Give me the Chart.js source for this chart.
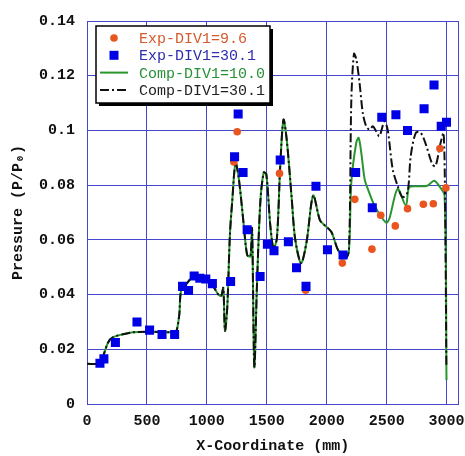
<!DOCTYPE html>
<html lang="en">
<head>
<meta charset="UTF-8">
<title>Pressure distribution</title>
<script src="https://cdn.jsdelivr.net/npm/chart.js"></script>
<style>
  body { margin: 0; background: #fff; }
  #wrap { width: 465px; height: 456px; }
</style>
</head>
<body>
<div id="wrap"><canvas id="chart"></canvas></div>
<script>
const xTicks = [0, 500, 1000, 1500, 2000, 2500, 3000];
const yTicks = [0, 0.02, 0.04, 0.06, 0.08, 0.1, 0.12, 0.14];

// experiment, DIV1 = 9.6 (only the points not hidden under the squares)
const exp96X = [1225, 1253, 1606, 1824, 2130, 2234, 2377, 2450, 2572, 2674, 2806, 2889, 2944, 2994];
const exp96Y = [0.0885, 0.0995, 0.0843, 0.0416, 0.0515, 0.0748, 0.0566, 0.069, 0.0651, 0.0714, 0.073, 0.0732, 0.0934, 0.079];

// experiment, DIV1 = 30.1
const exp301X = [108, 141, 237, 417, 522, 626, 731, 797, 847, 894, 941, 991, 1046, 1198, 1231, 1261, 1302, 1336,
  1444, 1505, 1560, 1612, 1680, 1748, 1827, 1910, 2006, 2136, 2241, 2380, 2459, 2577, 2674, 2812, 2895, 2955, 2999];
const exp301Y = [0.0149, 0.0165, 0.0225, 0.030, 0.027, 0.0254, 0.0254, 0.043, 0.0415, 0.0468, 0.046, 0.0457, 0.044, 0.0448, 0.0904, 0.106, 0.0846, 0.0637,
  0.0466, 0.0584, 0.056, 0.0892, 0.0593, 0.0498, 0.043, 0.0796, 0.0564, 0.0545, 0.0846, 0.0717, 0.1048, 0.1057, 0.100, 0.1079, 0.1166, 0.1015, 0.103];

// computed curves: both runs are the same up to about 2190 mm
const compX = [0, 100, 130, 176, 218, 300, 383, 521, 715, 745, 770, 784, 825, 894, 1004, 1060, 1100, 1120, 1137, 1151, 1170, 1192, 1211,
  1239, 1267, 1308, 1336, 1363, 1377, 1396, 1418, 1446, 1474, 1496, 1529, 1556, 1584, 1612, 1639, 1666, 1708, 1736, 1786, 1832,
  1887, 1943, 1984, 2039, 2094, 2155, 2185];
const compY = [0.0147, 0.0148, 0.017, 0.0225, 0.0244, 0.0255, 0.0262, 0.0264, 0.0262, 0.0265, 0.0328, 0.0412, 0.0437, 0.0467, 0.046, 0.0425, 0.0398, 0.0395, 0.0424, 0.0268, 0.0352, 0.0617, 0.0738,
  0.0882, 0.0822, 0.0653, 0.0545, 0.0539, 0.0641, 0.0135, 0.0437, 0.0738, 0.0846, 0.084, 0.0653, 0.0569, 0.0605, 0.087, 0.1039, 0.0967, 0.075, 0.0605, 0.0515, 0.0593,
  0.0762, 0.0672, 0.0653, 0.0629, 0.0563, 0.0533, 0.056];

// DIV1 = 10.0 after the split
const comp100X = [2205, 2246, 2266, 2288, 2316, 2343, 2398, 2494, 2522, 2591, 2660, 2688, 2757, 2839, 2895, 2936, 2983, 2999];
const comp100Y = [0.081, 0.0955, 0.0973, 0.0919, 0.0822, 0.0786, 0.0726, 0.0663, 0.0677, 0.0786, 0.0726, 0.0792, 0.0796, 0.0798, 0.0816, 0.0798, 0.0762, 0.0087];

// DIV1 = 30.1 after the split
const comp301X = [2205, 2227, 2246, 2274, 2301, 2329, 2357, 2384, 2412, 2439, 2481, 2508, 2550, 2591, 2632, 2674, 2701, 2743, 2784,
  2826, 2881, 2908, 2950, 2975, 2988, 2998];
const comp301Y = [0.111, 0.128, 0.1262, 0.1172, 0.1063, 0.1015, 0.1003, 0.1015, 0.0997, 0.0979, 0.1033, 0.1003, 0.0858, 0.0798, 0.0756, 0.0774, 0.0907, 0.0991, 0.0991,
  0.095, 0.0876, 0.087, 0.0955, 0.099, 0.07, 0.0135];

const toPts = (xs, ys) => xs.map((x, i) => ({ x: x, y: ys[i] }));

const MONO = '"Liberation Mono", "DejaVu Sans Mono", monospace';
const gridBlue = 'rgb(70, 70, 205)';

// legend drawn as a framed box inside the plot, like the original
const legendBox = {
  id: 'legendBox',
  afterDatasetsDraw(chart) {
    const ctx = chart.ctx;
    const a = chart.chartArea;
    const x = a.left + 9, y = a.top + 5, w = 174, h = 77;
    ctx.save();
    ctx.fillStyle = '#fff';
    ctx.fillRect(x, y, w, h);
    ctx.fillStyle = '#000';
    ctx.fillRect(x + 3, y + h, w, 3);   // shadow
    ctx.fillRect(x + w, y + 3, 3, h);
    ctx.strokeStyle = '#000';
    ctx.lineWidth = 1.5;
    ctx.strokeRect(x, y, w, h);

    ctx.font = '15px ' + MONO;
    ctx.textBaseline = 'middle';
    chart.data.datasets.forEach((ds, i) => {
      const cy = y + 12 + i * 17.3;
      const sx = x + 4, sw = 28;
      if (ds.showLine) {
        ctx.strokeStyle = ds.borderColor;
        ctx.lineWidth = 2;
        ctx.setLineDash(ds.borderDash || []);
        ctx.beginPath();
        ctx.moveTo(sx, cy);
        ctx.lineTo(sx + sw, cy);
        ctx.stroke();
        ctx.setLineDash([]);
      } else if (ds.pointStyle === 'rect') {
        ctx.fillStyle = ds.backgroundColor;
        ctx.fillRect(sx + sw / 2 - 4.5, cy - 4.5, 9, 9);
      } else {
        ctx.fillStyle = ds.backgroundColor;
        ctx.beginPath();
        ctx.arc(sx + sw / 2, cy, 3.8, 0, Math.PI * 2);
        ctx.fill();
      }
      ctx.fillStyle = ds.labelColor;
      ctx.fillText(ds.label, x + 43, cy + 1);
    });
    ctx.restore();
  }
};

new Chart(document.getElementById('chart'), {
  type: 'scatter',
  data: {
    datasets: [
      {
        label: 'Exp-DIV1=9.6',
        data: toPts(exp96X, exp96Y),
        pointStyle: 'circle',
        pointRadius: 3.8,
        backgroundColor: 'rgb(232, 85, 30)',
        borderWidth: 0,
        labelColor: 'rgb(214, 90, 45)',
        order: 1
      },
      {
        label: 'Exp-DIV1=30.1',
        data: toPts(exp301X, exp301Y),
        pointStyle: 'rect',
        pointRadius: 6.4,
        backgroundColor: 'rgb(0, 0, 230)',
        borderWidth: 0,
        labelColor: 'rgb(45, 45, 175)',
        order: 0
      },
      {
        label: 'Comp-DIV1=10.0',
        data: toPts(compX.concat(comp100X), compY.concat(comp100Y)),
        showLine: true,
        pointRadius: 0,
        borderColor: 'rgb(40, 150, 45)',
        borderWidth: 2,
        tension: 0.3,
        labelColor: 'rgb(40, 145, 55)',
        order: 3
      },
      {
        label: 'Comp-DIV1=30.1',
        data: toPts(compX.concat(comp301X), compY.concat(comp301Y)),
        showLine: true,
        pointRadius: 0,
        borderColor: '#111',
        borderWidth: 2,
        borderDash: [9, 3, 2, 3],
        tension: 0.3,
        labelColor: '#222',
        order: 2
      }
    ]
  },
  options: {
    responsive: true,
    maintainAspectRatio: false,
    animation: false,
    layout: { padding: { top: 16, right: 4, left: 0, bottom: 0 } },
    plugins: {
      legend: { display: false },
      tooltip: { enabled: false }
    },
    scales: {
      x: {
        type: 'linear',
        min: 0,
        max: 3100,
        afterBuildTicks: (s) => { s.ticks = xTicks.concat([3100]).map(v => ({ value: v })); },
        afterFit: (s) => { s.height = 52; s.paddingRight = 0; s.paddingLeft = 0; },
        grid: { color: gridBlue, lineWidth: 1, drawTicks: false },
        border: { color: gridBlue, width: 1 },
        ticks: {
          padding: 8,
          color: '#111',
          font: { family: MONO, size: 15, weight: 'bold' },
          maxRotation: 0,
          autoSkip: false,
          callback: (v) => xTicks.includes(v) ? String(v) : ''
        },
        title: {
          display: true,
          text: 'X-Coordinate (mm)',
          color: '#111',
          font: { family: MONO, size: 15, weight: 'bold' },
          padding: { top: 0, bottom: 1 }
        }
      },
      y: {
        min: 0,
        max: 0.14,
        afterBuildTicks: (s) => { s.ticks = yTicks.map(v => ({ value: v })); },
        afterFit: (s) => { s.width = 87; },
        grid: { color: gridBlue, lineWidth: 1, drawTicks: false },
        border: { color: gridBlue, width: 1 },
        ticks: {
          padding: 12,
          color: '#111',
          font: { family: MONO, size: 15, weight: 'bold' },
          autoSkip: false,
          callback: (v) => v === 0 ? '0' : String(parseFloat(v.toFixed(2)))
        },
        title: {
          display: true,
          text: 'Pressure (P/P\u2080)',
          color: '#111',
          font: { family: MONO, size: 15, weight: 'bold' },
          padding: { top: 9, bottom: 0 }
        }
      }
    }
  },
  plugins: [legendBox]
});
</script>
</body>
</html>
